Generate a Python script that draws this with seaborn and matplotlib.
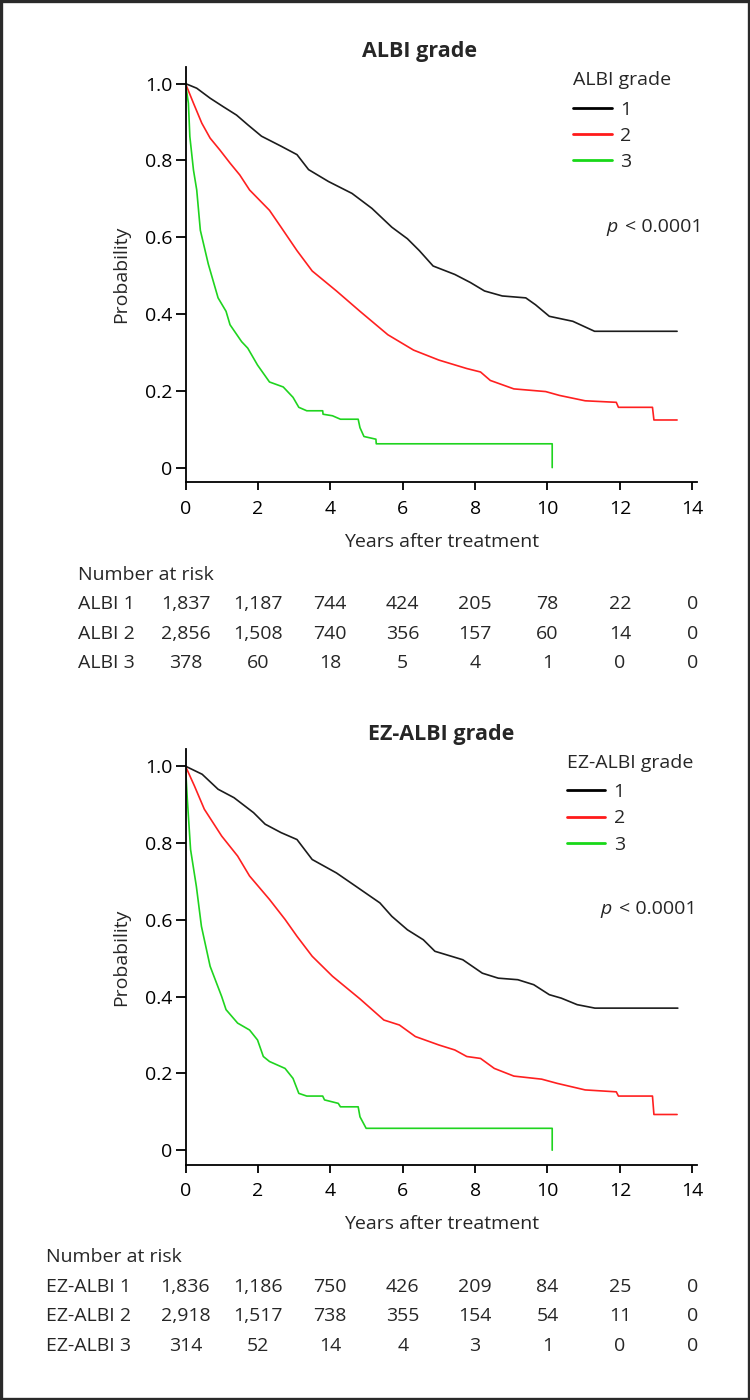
import matplotlib
matplotlib.use("Agg")
import matplotlib.pyplot as plt
import seaborn as sns
import pandas as pd
from matplotlib.transforms import blended_transform_factory
from matplotlib.patches import Rectangle

# ---- ALBI grade: Kaplan-Meier points (years, probability)
albi1_t = [0, 0.31, 0.68, 1.04, 1.41, 1.73, 2.10, 2.64, 3.08, 3.40, 3.95, 4.60, 5.15, 5.70,
           6.13, 6.46, 6.84, 7.44, 7.87, 8.26, 8.75, 9.40, 9.67, 10.05, 10.70, 11.30, 13.58]
albi1_s = [1.0, 0.988, 0.962, 0.940, 0.918, 0.892, 0.863, 0.837, 0.815, 0.776, 0.745, 0.714,
           0.675, 0.626, 0.596, 0.565, 0.525, 0.503, 0.482, 0.460, 0.447, 0.442, 0.424, 0.394,
           0.381, 0.355, 0.355]
albi2_t = [0, 0.22, 0.45, 0.68, 0.95, 1.23, 1.50, 1.77, 2.32, 2.64, 3.08, 3.50, 4.17, 4.82,
           5.59, 6.30, 7.00, 7.77, 8.15, 8.42, 9.07, 9.95, 10.33, 11.04, 11.90, 11.96, 12.90,
           12.94, 13.58]
albi2_s = [1.0, 0.949, 0.897, 0.858, 0.827, 0.793, 0.762, 0.723, 0.670, 0.626, 0.565, 0.512,
           0.460, 0.407, 0.346, 0.306, 0.280, 0.258, 0.249, 0.227, 0.205, 0.198, 0.188, 0.174,
           0.170, 0.157, 0.157, 0.124, 0.124]
albi3_t = [0, 0.08, 0.12, 0.22, 0.31, 0.41, 0.63, 0.90, 1.12, 1.23, 1.55, 1.72, 1.99, 2.32,
           2.70, 2.97, 3.13, 3.35, 3.79, 3.80, 4.06, 4.28, 4.77, 4.82, 4.93, 5.26, 5.27, 10.13,
           10.13]
albi3_s = [1.0, 0.949, 0.862, 0.775, 0.723, 0.618, 0.530, 0.442, 0.407, 0.372, 0.328, 0.311,
           0.267, 0.223, 0.210, 0.183, 0.157, 0.148, 0.148, 0.139, 0.135, 0.126, 0.126, 0.104,
           0.081, 0.074, 0.062, 0.062, 0.0]

# ---- EZ-ALBI grade
ez1_t = [0, 0.46, 0.90, 1.34, 1.88, 2.20, 2.64, 3.08, 3.50, 4.17, 4.71, 5.37, 5.70, 6.13,
         6.57, 6.89, 7.66, 8.20, 8.64, 9.18, 9.62, 10.05, 10.38, 10.82, 11.31, 13.60]
ez1_s = [1.0, 0.979, 0.940, 0.918, 0.879, 0.849, 0.827, 0.809, 0.757, 0.722, 0.687, 0.644,
         0.609, 0.574, 0.548, 0.518, 0.496, 0.461, 0.448, 0.444, 0.431, 0.405, 0.396, 0.379,
         0.370, 0.370]
ez2_t = [0, 0.245, 0.52, 1.00, 1.44, 1.77, 2.32, 2.75, 3.08, 3.50, 4.06, 4.82, 5.48, 5.91,
         6.35, 7.00, 7.44, 7.77, 8.15, 8.53, 9.07, 9.84, 10.27, 11.04, 11.90, 11.96, 12.90,
         12.94, 13.58]
ez2_s = [1.0, 0.949, 0.888, 0.818, 0.766, 0.714, 0.653, 0.601, 0.557, 0.505, 0.453, 0.394,
         0.339, 0.326, 0.296, 0.274, 0.261, 0.244, 0.239, 0.213, 0.193, 0.185, 0.174, 0.157,
         0.152, 0.141, 0.141, 0.093, 0.093]
ez3_t = [0, 0.05, 0.14, 0.30, 0.44, 0.68, 1.00, 1.12, 1.44, 1.77, 1.99, 2.15, 2.32, 2.75,
         2.97, 3.13, 3.35, 3.79, 3.84, 4.22, 4.28, 4.77, 4.82, 4.99, 10.13, 10.13]
ez3_s = [1.0, 0.914, 0.783, 0.687, 0.583, 0.479, 0.400, 0.366, 0.331, 0.313, 0.287, 0.244,
         0.231, 0.213, 0.187, 0.148, 0.141, 0.141, 0.131, 0.122, 0.113, 0.113, 0.087, 0.057,
         0.057, 0.0]

# ---- number at risk
risk_times = [0, 2, 4, 6, 8, 10, 12, 14]
albi_risk_labels = ["ALBI 1", "ALBI 2", "ALBI 3"]
albi_risk1 = [1837, 1187, 744, 424, 205, 78, 22, 0]
albi_risk2 = [2856, 1508, 740, 356, 157, 60, 14, 0]
albi_risk3 = [378, 60, 18, 5, 4, 1, 0, 0]
ez_risk_labels = ["EZ-ALBI 1", "EZ-ALBI 2", "EZ-ALBI 3"]
ez_risk1 = [1836, 1186, 750, 426, 209, 84, 25, 0]
ez_risk2 = [2918, 1517, 738, 355, 154, 54, 11, 0]
ez_risk3 = [314, 52, 14, 4, 3, 1, 0, 0]

grades = ["1", "2", "3"]
colors = ["#1c1c1c", "#ff2020", "#1fd41f"]
legend_colors = ["#000000", "#ff1a1a", "#18d818"]

sns.set_theme(style="ticks")
plt.rcParams['font.family'] = ['Open Sans', 'DejaVu Sans']

W, H = 750, 1400
FS = 14
fig = plt.figure(figsize=(7.5, 14), dpi=100)


def fx(px):
    return px / W


def fy(py):
    return 1 - py / H


def make_df(ts, ss):
    parts = []
    for g, t, s in zip(grades, ts, ss):
        parts.append(pd.DataFrame({"time": t, "surv": s, "grade": g}))
    return pd.concat(parts, ignore_index=True)


def draw_panel(top, title, title_x, legend_title, leg_x, p_x, df, risk_labels, risk_rows,
               label_x):
    # axes in pixels: y axis at x=185.5, x axis line 415.5 px below the top of the y axis
    ax = fig.add_axes([fx(185.5), fy(top + 415.5), fx(697) - fx(185.5), 415.5 / H])
    sns.lineplot(data=df, x="time", y="surv", hue="grade", palette=colors,
                 estimator=None, sort=False, linewidth=1.2, ax=ax)
    ax.set_xlim(0, 14.13)
    ax.set_ylim(-0.038, 1.044)
    ax.set_xticks(risk_times)
    ax.set_yticks([0, 0.2, 0.4, 0.6, 0.8, 1.0])
    ax.set_yticklabels(["0", "0.2", "0.4", "0.6", "0.8", "1.0"])
    ax.set_xlabel("Years after treatment", fontsize=FS)
    ax.xaxis.label.set_va("baseline")
    ax.xaxis.set_label_coords(fx(441.5), fy(top + 480), transform=fig.transFigure)
    ax.set_ylabel("Probability", fontsize=FS)
    ax.yaxis.label.set_va("center")
    ax.yaxis.set_label_coords(fx(121), fy(top + 208), transform=fig.transFigure)
    for side in ["top", "right"]:
        ax.spines[side].set_visible(False)
    for side in ["left", "bottom"]:
        ax.spines[side].set_linewidth(1.3)
        ax.spines[side].set_color("black")
    ax.tick_params(direction="out", width=1.3, labelsize=FS, color="black",
                   labelcolor="black")
    ax.tick_params(axis="x", length=5.5, pad=7)
    ax.tick_params(axis="y", length=7, pad=2.5)

    fig.text(fx(title_x), fy(top - 9.5), title, ha="center", va="baseline",
             fontsize=15.5, fontweight="bold")

    handles, _ = ax.get_legend_handles_labels()
    leg = ax.legend(handles, grades, loc="upper left",
                    bbox_to_anchor=(fx(leg_x), fy(top + 34)), bbox_transform=fig.transFigure,
                    frameon=False, handlelength=2.0, handletextpad=0.42,
                    labelspacing=0.42, borderaxespad=0, borderpad=0, fontsize=FS)
    for ln, c in zip(leg.get_lines(), legend_colors):
        ln.set_linewidth(2.0)
        ln.set_color(c)
    fig.text(fx(leg_x + 0.5), fy(top + 18.5), legend_title, fontsize=FS,
             ha="left", va="baseline")

    fig.text(fx(p_x), fy(top + 160), "p", style="italic", fontsize=FS,
             ha="left", va="center")
    fig.text(fx(p_x + 19), fy(top + 160), "< 0.0001", fontsize=FS, ha="left", va="center")

    # number at risk table, columns under the x ticks
    tr = blended_transform_factory(ax.transData, fig.transFigure)
    y0 = top + 508
    fig.text(fx(label_x), fy(y0), "Number at risk", fontsize=FS, ha="left", va="center")
    for i, (lab, row) in enumerate(zip(risk_labels, risk_rows)):
        yy = fy(y0 + 29.5 * (i + 1))
        fig.text(fx(label_x), yy, lab, fontsize=FS, ha="left", va="center")
        for t, v in zip(risk_times, row):
            ax.text(t, yy, f"{v:,}", transform=tr, fontsize=FS,
                    ha="center", va="center", clip_on=False)
    return ax


draw_panel(66.7, "ALBI grade", 419, "ALBI grade", 572.7, 606,
           make_df([albi1_t, albi2_t, albi3_t], [albi1_s, albi2_s, albi3_s]),
           albi_risk_labels, [albi_risk1, albi_risk2, albi_risk3], 77.5)
draw_panel(749.3, "EZ-ALBI grade", 441.5, "EZ-ALBI grade", 566.6, 600,
           make_df([ez1_t, ez2_t, ez3_t], [ez1_s, ez2_s, ez3_s]),
           ez_risk_labels, [ez_risk1, ez_risk2, ez_risk3], 46.5)

# dark frame round the whole figure
fig.patches.append(Rectangle((fx(0.8), fy(1398.6)), fx(748.6) - fx(0.8),
                             fy(0.8) - fy(1398.6), transform=fig.transFigure, fill=False,
                             edgecolor="#2a2a2a", linewidth=2.4))

fig.savefig("out.png", dpi=100)
